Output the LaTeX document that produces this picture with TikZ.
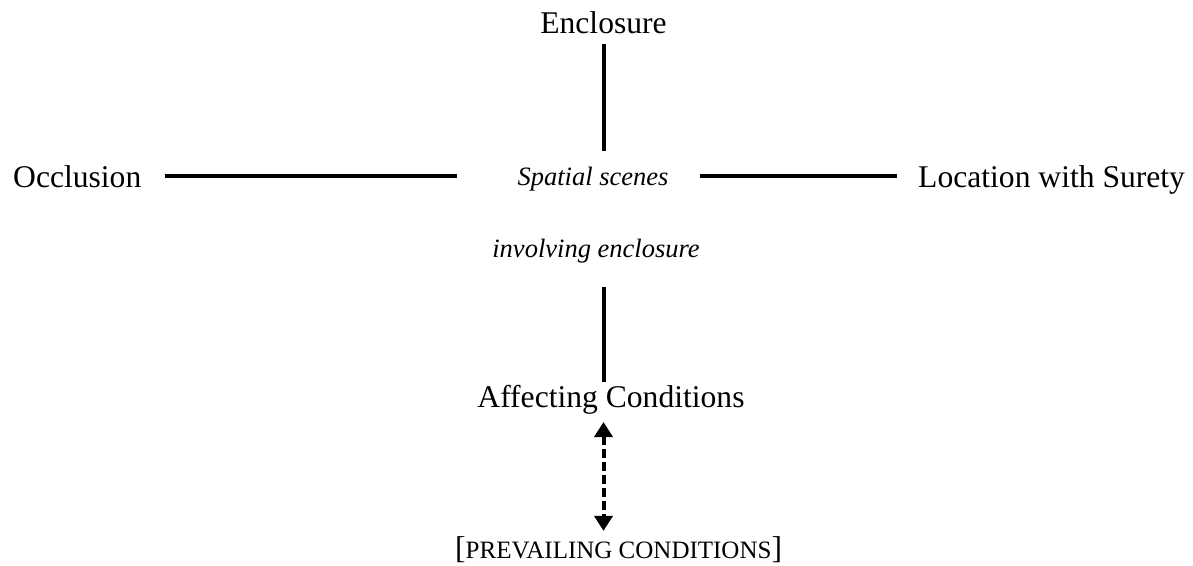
\documentclass[tikz,border=0pt]{standalone}
\usepackage{fontspec}
\setmainfont{Liberation Serif}
\usetikzlibrary{arrows.meta}

\tikzset{
  label/.style={inner sep=0pt, anchor=base, font=\fontsize{31.6}{36}\selectfont},
  scene/.style={inner sep=0pt, anchor=base, font=\fontsize{26.5}{30}\selectfont\itshape},
  link/.style={line width=4pt},
  twoway/.style={line width=4pt, dash pattern=on 9pt off 4pt,
    {Triangle[width=18pt,length=15pt]}-{Triangle[width=18pt,length=15pt]}}
}

\begin{document}
\begin{tikzpicture}[x=1pt,y=1pt]
  \useasboundingbox (0,0) rectangle (1193,-565);

  % labels around the central scene
  \node[label] (enc) at (603.5,-33) {Enclosure};
  \node[label, anchor=base west] (occ) at (13,-187) {Occlusion};
  \node[label, anchor=base west] (loc) at (918,-187) {Location with Surety};
  \node[scene] (sp) at (593,-185) {Spatial scenes};
  \node[scene] (inv) at (596,-257) {involving enclosure};
  \node[label] (aff) at (611,-407) {Affecting Conditions};
  \node[inner sep=0pt, anchor=base west] (prev) at (455,-558)
    {\fontsize{31.6}{36}\selectfont[\fontsize{25}{30}\selectfont PREVAILING CONDITIONS\fontsize{31.6}{36}\selectfont]};

  % connectors
  \draw[link, shorten <=10pt, shorten >=15pt] (enc.south) -- (enc.south |- sp.north);
  \draw[link, shorten <=23pt, shorten >=60pt] (occ.east) -- (occ.east -| sp.west);
  \draw[link, shorten <=31pt, shorten >=21pt] (occ.east -| sp.east) -- (occ.east -| loc.west);
  \draw[link, shorten <=24pt, shorten >=3pt] (inv.south -| enc.south) -- (aff.north -| enc.south);
  \draw[twoway, shorten <=8pt, shorten >=5pt] (aff.south -| enc.south) -- (prev.north -| enc.south);
\end{tikzpicture}
\end{document}
